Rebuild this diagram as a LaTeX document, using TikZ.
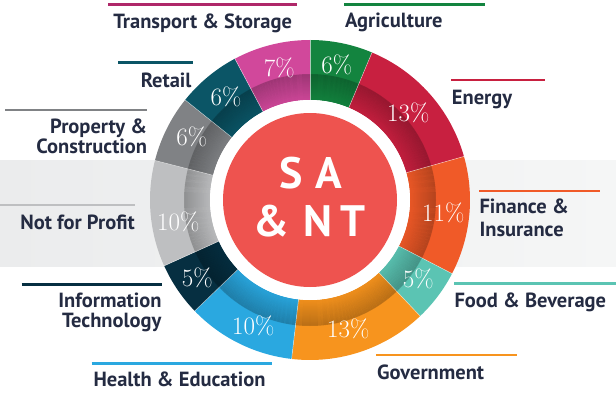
\documentclass[tikz,border=0pt]{standalone}
\usepackage{fontspec}
\newfontfamily\labfont{PT Sans}
\definecolor{cagri}{RGB}{19,132,63}
\definecolor{cenergy}{RGB}{200,32,64}
\definecolor{cfin}{RGB}{240,90,40}
\definecolor{cfood}{RGB}{91,196,179}
\definecolor{cgov}{RGB}{247,148,30}
\definecolor{chealth}{RGB}{42,168,224}
\definecolor{cit}{RGB}{6,47,65}
\definecolor{cnfp}{RGB}{190,191,193}
\definecolor{cprop}{RGB}{128,130,133}
\definecolor{cretail}{RGB}{11,85,102}
\definecolor{ctrans}{RGB}{209,72,155}
\definecolor{ctransline}{RGB}{175,40,105}
\definecolor{cred}{RGB}{238,83,79}
\definecolor{labc}{RGB}{36,43,66}
\definecolor{bandL}{RGB}{235,236,237}
\definecolor{bandR}{RGB}{245,246,246}
\begin{document}
\begin{tikzpicture}[x=1pt,y=1pt,
  lab/.style={font=\labfont\bfseries\fontsize{20.5}{20.5}\selectfont, text=labc, inner sep=0pt},
  pct/.style={font=\fontsize{25}{25}\selectfont, text=white, inner sep=0pt},
  ctr/.style={font=\labfont\bfseries\fontsize{44}{44}\selectfont, text=white, inner sep=0pt},
  rulel/.style={line width=2.6pt}]
\useasboundingbox (0,0) rectangle (616,392);
\shade[left color=bandL, right color=bandR] (0,125.3) rectangle (616,232);
\begin{scope}[shift={(310,192)}]
  \foreach \a/\b/\c in {67.2/90/cagri, 15.8/67.2/cenergy, -27.4/15.8/cfin,
      -46.5/-27.4/cfood, -96.6/-46.5/cgov, -136.1/-96.6/chealth,
      -155.7/-136.1/cit, 165.7/204.3/cnfp, 141.3/165.7/cprop,
      118/141.3/cretail, 90/118/ctrans} {
    \fill[\c] (\a:160pt) arc[start angle=\a, end angle=\b, radius=160pt]
      -- (\b:100pt) arc[start angle=\b, end angle=\a, radius=100pt] -- cycle;
  }
  \foreach \i in {0,...,25} {
    \pgfmathsetmacro\op{0.03+0.0075*\i}
    \pgfmathsetmacro\rr{100.5+\i}
    \draw[black, draw opacity=\op, line width=1pt] (0,0) circle[radius=\rr pt];
  }
  \foreach \a in {90,67.2,15.8,-27.4,-46.5,-96.6,-136.1,-155.7,165.7,141.3,118}
    \draw[white, line width=0.5pt, opacity=0.6] (\a:100pt) -- (\a:160pt);
  \fill[white] (0,0) circle[radius=100pt];
  \fill[cred] (0,0) circle[radius=87pt];
\end{scope}
% centre text
\node[ctr, anchor=base] (sa) at (310.8,203.7) {S\kern13pt A};
\node[ctr, anchor=base] (nt) at (309.2,155.3) {\&\kern14pt N\kern8pt T};
% percentages
\node[pct] (p1) at (279.3,323.7) {7\%};
\node[pct] (p2) at (336.7,327) {6\%};
\node[pct] (p3) at (408.3,278.7) {13\%};
\node[pct] (p4) at (226,295.3) {6\%};
\node[pct] (p5) at (191.7,255.3) {6\%};
\node[pct] (p6) at (178.3,170.3) {10\%};
\node[pct] (p7) at (443.3,178.7) {11\%};
\node[pct] (p8) at (418.3,112.7) {5\%};
\node[pct] (p9) at (348.3,63) {13\%};
\node[pct] (p10) at (253.3,66.3) {10\%};
\node[pct] (p11) at (197.3,113.7) {5\%};
% label rules
\draw[rulel, ctransline] (108.3,387.3) -- (297.3,387.3);
\draw[rulel, cagri] (344.3,387.7) -- (485,387.7);
\draw[rulel, cretail] (118.3,329.7) -- (192.7,329.7);
\draw[rulel, cenergy] (451,312) -- (545.3,312);
\draw[rulel, cprop] (5,282) -- (147.3,282);
\draw[rulel, cnfp] (0,187) -- (135,187);
\draw[rulel, cfin] (479.3,201) -- (600.3,201);
\draw[rulel, cfood] (454.3,108.7) -- (616,108.7);
\draw[rulel, cit] (21.7,107.7) -- (161.7,107.7);
\draw[rulel, chealth] (91.7,28.7) -- (271.7,28.7);
\draw[rulel, cgov] (376,37) -- (517,37);
% labels
\node[lab, anchor=base] (ltrans) at (202.7,363.7) {Transport \& Storage};
\node[lab, anchor=base west] (lagri) at (345,364.3) {Agriculture};
\node[lab, anchor=base east] (lretail) at (191.7,304.7) {Retail};
\node[lab, anchor=base west] (lenergy) at (451.7,287.7) {Energy};
\node[lab, anchor=base east] (lprop1) at (147.3,258.5) {Property \&};
\node[lab, anchor=base east] (lprop2) at (147.3,238.3) {Construction};
\node[lab, anchor=base east] (lnfp) at (135,162.7) {Not for Profit};
\node[lab, anchor=base west] (lfin1) at (479.3,178.5) {Finance \&};
\node[lab, anchor=base west] (lfin2) at (479.3,155.8) {Insurance};
\node[lab, anchor=base west] (lfood) at (454.3,84.7) {Food \& Beverage};
\node[lab, anchor=base east] (lit1) at (161.7,84.5) {Information};
\node[lab, anchor=base east] (lit2) at (161.7,64.3) {Technology};
\node[lab, anchor=base west] (lhealth) at (93.3,5.3) {Health \& Education};
\node[lab, anchor=base west] (lgov) at (377,13) {Government};
\end{tikzpicture}
\end{document}
